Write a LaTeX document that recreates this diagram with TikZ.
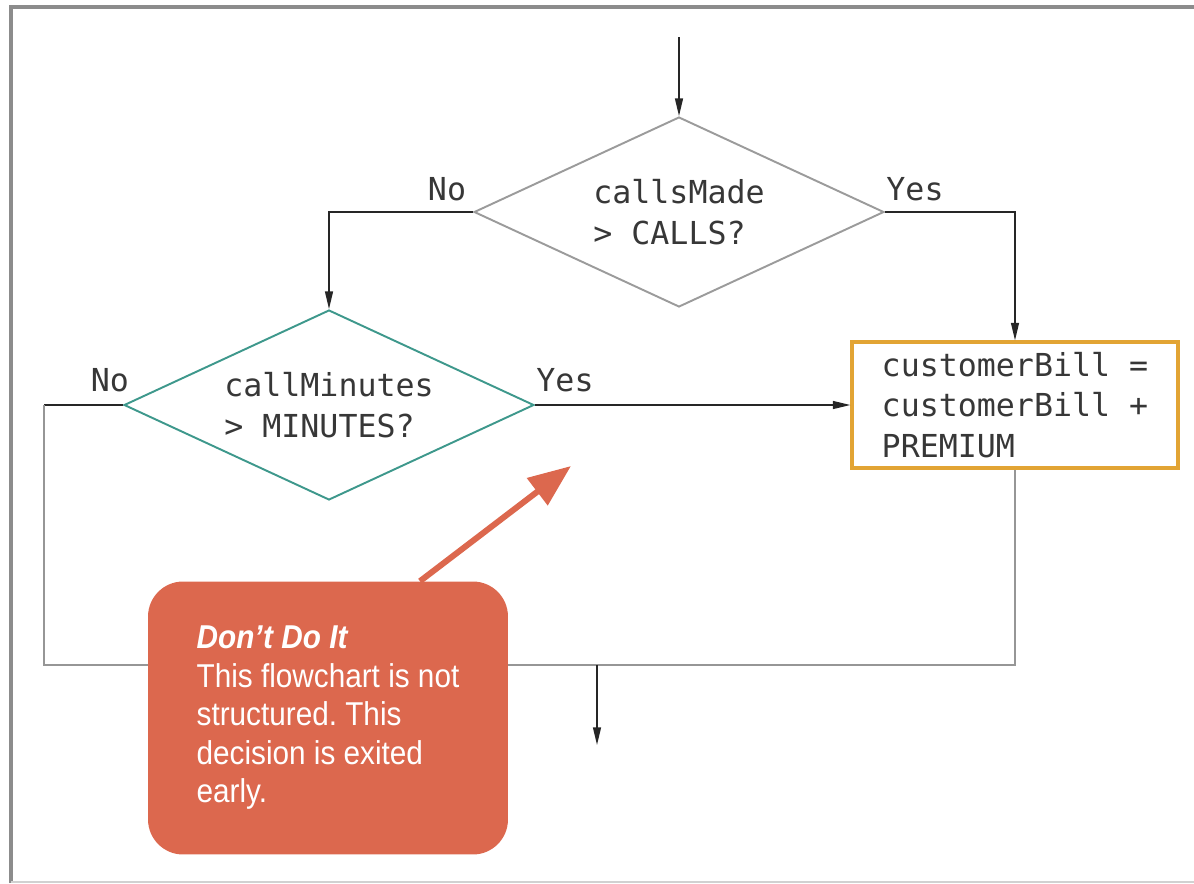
\documentclass[tikz,border=0pt]{standalone}
\usepackage{fontspec}
\setmonofont{DejaVu Sans Mono}
\newfontfamily\calloutfont[FakeStretch=0.9]{Liberation Sans}
\usetikzlibrary{shapes.geometric,arrows.meta,calc}
\frenchspacing
\definecolor{framegray}{RGB}{140,140,140}
\definecolor{diagray}{RGB}{155,155,155}
\definecolor{diateal}{RGB}{62,152,140}
\definecolor{boxgold}{RGB}{226,164,52}
\definecolor{noteorange}{RGB}{220,104,78}
\definecolor{txtgray}{RGB}{55,55,55}
\definecolor{loopgray}{RGB}{150,150,150}
\tikzset{
  flowtext/.style={font=\fontsize{18}{23}\selectfont\ttfamily, text=txtgray},
  decision/.style={shape=diamond, draw, line width=1.1pt, inner sep=0pt,
    aspect=2.16, minimum width=8.2cm, minimum height=3.8cm, align=left, flowtext},
  process/.style={draw=boxgold, line width=1.8pt, minimum width=6.52cm,
    minimum height=2.52cm, align=left, flowtext},
  conn/.style={line width=0.85pt, draw=black!85, -{Triangle[length=10pt,width=4.5pt]}},
  plainconn/.style={line width=0.85pt, draw=black!85},
  loopline/.style={line width=0.9pt, draw=loopgray},
  lbl/.style={flowtext, inner sep=0pt},
  note/.style={fill=noteorange, draw=none, rounded corners=0.7cm,
    minimum width=7.2cm, minimum height=5.46cm, align=left, text=white,
    font=\calloutfont\fontsize{18.8}{21.9}\selectfont},
  notearrow/.style={draw=noteorange, line width=3.4pt,
    -{Triangle[length=0.85cm,width=0.66cm]}}
}
\begin{document}
\begin{tikzpicture}[x=0.02cm, y=-0.02cm]
\useasboundingbox (0,0) rectangle (1194,883);
% frame
\draw[framegray, line width=2.2pt] (11,883) -- (11,7) -- (1194,7);
\draw[black!18, line width=1pt] (11,882) -- (1194,882);

% nodes
\node[decision, draw=diagray] (d1) at (679,212) {callsMade\\> CALLS?};
\node[decision, draw=diateal] (d2) at (329,405) {callMinutes\\> MINUTES?};
\node[process] (bill) at (1015,405) {customerBill =\\customerBill +\\PREMIUM};

\coordinate (start) at (679,37);
\coordinate (lc) at (44,665);
\coordinate (rc) at (bill.south |- lc);
\coordinate (join) at (597,665);
\coordinate (exit) at (597,745);

% connectors
\draw[conn] (start) -- (d1.north);
\draw[conn] (d1.west) -| (d2.north);
\draw[conn] (d1.east) -| (bill.north);
\draw[conn] (d2.east) -- (bill.west);
\draw[plainconn] (d2.west) -- (d2.west -| lc);
\draw[loopline] (d2.west -| lc) -- (lc) -- (rc) -- (bill.south);
\draw[conn] (join) -- (exit);

% labels
\node[lbl] (no1) at (447,189) {No};
\node[lbl] (yes1) at (915,189) {Yes};
\node[lbl] (no2) at (110,380) {No};
\node[lbl] (yes2) at (565,380) {Yes};

% callout
\node[note] (dont) at (328,718) {{\bfseries\itshape Don’t Do It}\\This flowchart is not\\structured. This\\decision is exited\\early.};
\coordinate (tip) at (571,466);
\draw[notearrow] ([xshift=1.84cm]dont.north) -- (tip);
\end{tikzpicture}
\end{document}
